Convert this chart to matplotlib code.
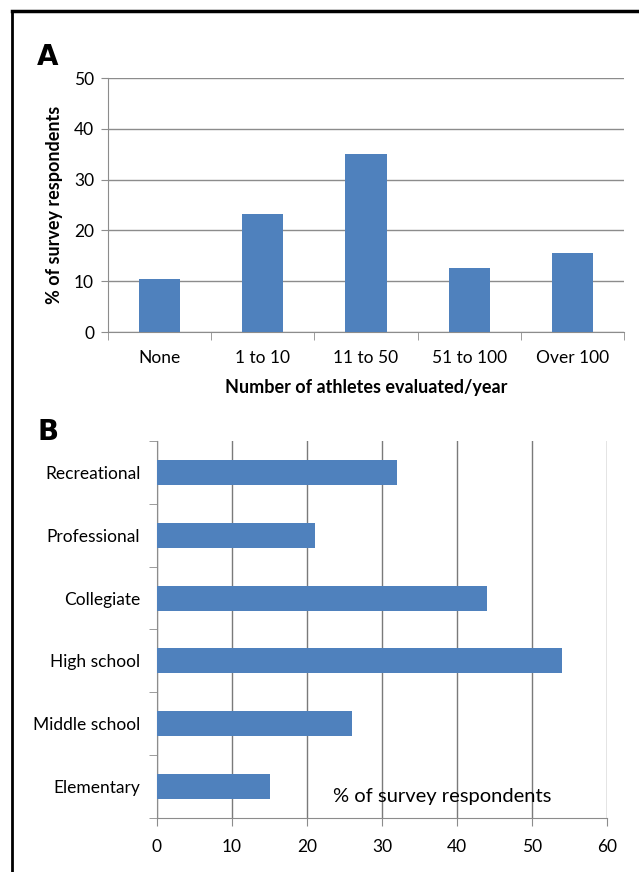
import numpy as np
import matplotlib
matplotlib.use('Agg')
import matplotlib.pyplot as plt
from matplotlib.lines import Line2D

plt.rcParams['font.family'] = ['Lato', 'DejaVu Sans']

# panel A data
athlete_bins = ['None', '1 to 10', '11 to 50', '51 to 100', 'Over 100']
athlete_pct = [10.5, 23.3, 35.0, 12.6, 15.5]

# panel B data
levels = ['Elementary', 'Middle school', 'High school', 'Collegiate',
          'Professional', 'Recreational']
level_pct = [15, 26, 54, 44, 21, 32]

bar_color = '#4F81BD'
grid_color = '#8c8c8c'
spine_color = '#8c8c8c'

fig = plt.figure(figsize=(6.39, 8.72), dpi=100)

# outer frame (left and top only)
fig.add_artist(Line2D([12 / 639, 12 / 639], [0, 1 - 11 / 872],
                      transform=fig.transFigure, color='black', lw=2))
fig.add_artist(Line2D([12 / 639, 1], [1 - 11 / 872, 1 - 11 / 872],
                      transform=fig.transFigure, color='black', lw=2.5))

# ---- panel A ----
axA = fig.add_axes([108 / 639, 1 - 332 / 872, (624 - 108) / 639, (332 - 78) / 872])
x = np.arange(len(athlete_bins))
axA.bar(x, athlete_pct, width=0.4, color=bar_color, zorder=3)
axA.set_xlim(-0.5, len(athlete_bins) - 0.5)
axA.set_ylim(0, 50)
axA.set_yticks(np.arange(0, 51, 10))
axA.yaxis.grid(True, color=grid_color, lw=1)
axA.set_axisbelow(True)
for s in ['top', 'right']:
    axA.spines[s].set_visible(False)
for s in ['left', 'bottom']:
    axA.spines[s].set_color(spine_color)
axA.set_xticks(x)
axA.set_xticklabels(athlete_bins, fontsize=12.5)
axA.tick_params(axis='x', length=0, pad=13)
axA.set_xticks(np.arange(-0.5, len(athlete_bins)), minor=True)
axA.tick_params(axis='x', which='minor', length=6, color=spine_color, direction='out')
axA.tick_params(axis='y', labelsize=12.5, length=5, color=spine_color, pad=5)
axA.set_ylabel('% of survey respondents', fontsize=13, fontweight='bold', labelpad=8)
axA.set_xlabel('Number of athletes evaluated/year', fontsize=13, fontweight='bold', labelpad=9)
fig.text(37 / 639, 1 - 57 / 872, 'A', fontsize=20, fontweight='bold',
         family='DejaVu Sans', va='center', ha='left')

# ---- panel B ----
axB = fig.add_axes([157 / 639, 1 - 818 / 872, (607 - 157) / 639, (818 - 441) / 872])
y = np.arange(len(levels))
axB.barh(y, level_pct, height=0.4, color=bar_color, zorder=3)
axB.set_ylim(-0.5, len(levels) - 0.5)
axB.set_xlim(0, 60)
axB.set_xticks(np.arange(0, 61, 10))
axB.xaxis.grid(True, color='#7a7a7a', lw=1)
axB.set_axisbelow(True)
for s in ['top', 'right']:
    axB.spines[s].set_visible(False)
for s in ['left', 'bottom']:
    axB.spines[s].set_color(spine_color)
axB.set_yticks(y)
axB.set_yticklabels(levels, fontsize=12.5)
axB.tick_params(axis='y', length=0, pad=12)
axB.set_yticks(np.arange(-0.5, len(levels)), minor=True)
axB.tick_params(axis='y', which='minor', length=6, color=spine_color, direction='out')
axB.tick_params(axis='x', labelsize=12.5, length=6, color=spine_color, pad=9)
axB.text(23.5, -0.15, '% of survey respondents', fontsize=14.5, va='center', ha='left')
fig.text(37 / 639, 1 - 432 / 872, 'B', fontsize=20, fontweight='bold',
         family='DejaVu Sans', va='center', ha='left')

fig.savefig('out.png', dpi=100)
